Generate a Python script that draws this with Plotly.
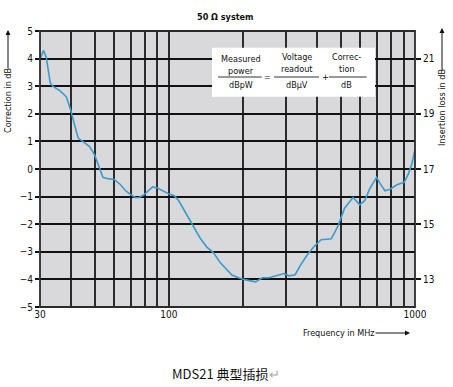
import plotly.graph_objects as go

# ---- data ----
freq_mhz = [30, 31, 31.8, 33, 33.8, 36.2, 38.4, 40, 41.3, 42.9, 44.9, 47.7, 50, 52.4, 54,
            56.6, 60, 63.6, 66.5, 70, 73.4, 76, 79.6, 86, 90, 100, 105.6, 110, 114, 123.8,
            134, 142.5, 152, 162, 172, 180.5, 192, 201, 225, 240, 255, 272, 294, 308, 326,
            344, 366, 390, 416, 457, 486, 518, 560, 597, 625, 656, 698, 721, 755, 792,
            844, 904, 942, 972, 1000]
correction_db = [4.0, 4.29, 4.05, 3.13, 3.0, 2.83, 2.61, 2.13, 1.65, 1.11, 0.99, 0.81, 0.51, 0.04, -0.30,
                 -0.35, -0.38, -0.56, -0.77, -0.93, -1.04, -1.03, -0.92, -0.65, -0.69, -0.90, -0.98, -1.16, -1.40, -1.96,
                 -2.5, -2.82, -3.04, -3.40, -3.64, -3.84, -3.94, -4.0, -4.09, -3.94, -3.94, -3.88, -3.79, -3.87, -3.83,
                 -3.46, -3.1, -2.8, -2.56, -2.53, -2.08, -1.41, -1.03, -1.30, -1.14, -0.70, -0.30, -0.52, -0.79, -0.73,
                 -0.57, -0.48, -0.16, 0.21, 0.70]

x_grid_vals = [30, 40, 50, 60, 70, 80, 90, 100, 200, 300, 400, 500, 600, 700, 800, 900, 1000]
x_labels = {30: "30", 100: "100", 1000: "1000"}
left_ticks = [-5, -4, -3, -2, -1, 0, 1, 2, 3, 4, 5]
right_ticks = [13, 15, 17, 19, 21]

FONT = "Liberation Sans Narrow, Arial Narrow, DejaVu Sans Condensed, Liberation Sans, Arial, sans-serif"
GRID = "#2b2b2b"

fig = go.Figure()
fig.add_trace(go.Scatter(x=freq_mhz, y=correction_db, mode="lines",
                         line=dict(color="#3b9bcc", width=1.6), showlegend=False,
                         hoverinfo="skip"))
# invisible trace to activate right axis
fig.add_trace(go.Scatter(x=[30], y=[17], yaxis="y2", mode="markers",
                         marker=dict(opacity=0), showlegend=False, hoverinfo="skip"))

fig.update_layout(
    width=453, height=387,
    margin=dict(l=40, r=38, t=31, b=80, pad=0),
    paper_bgcolor="white",
    plot_bgcolor="#d9d9db",
    font=dict(family=FONT, size=10, color="#111"),
    xaxis=dict(type="log", range=[1.4771, 3.0], tickvals=x_grid_vals,
               ticktext=[x_labels.get(v, "") for v in x_grid_vals],
               showgrid=True, gridcolor=GRID, gridwidth=1.8, zeroline=False,
               showline=False, ticks="", tickfont=dict(size=10)),
    yaxis=dict(range=[-5, 5], tickvals=left_ticks, showgrid=True, gridcolor="#111",
               gridwidth=1.5, zeroline=False, showline=False, ticks="outside",
               ticklen=4, tickcolor="#111", tickwidth=1.5, tickfont=dict(size=10)),
    yaxis2=dict(range=[12, 22], overlaying="y", side="right", tickvals=right_ticks,
                showgrid=False, zeroline=False, showline=False, ticks="outside",
                ticklen=5, tickcolor="#111", tickwidth=1.5, tickfont=dict(size=10)),
)

def px2paper(px, py):
    return (px - 40) / 375.0, (307 - py) / 276.0

shapes = []
# border lines
shapes.append(dict(type="rect", xref="paper", yref="paper", x0=0, x1=1, y0=0, y1=1,
                   line=dict(color=GRID, width=1.8)))
# formula box
bx0, by0 = px2paper(212, 96.7)
bx1, by1 = px2paper(375, 47.7)
shapes.append(dict(type="rect", xref="paper", yref="paper", x0=bx0, x1=bx1, y0=by0, y1=by1,
                   fillcolor="white", line=dict(width=0), layer="above"))
for (a, b) in [(218, 261.7), (274, 319), (329, 366.7)]:
    x0, yy = px2paper(a, 77)
    x1, _ = px2paper(b, 77)
    shapes.append(dict(type="line", xref="paper", yref="paper", x0=x0, x1=x1, y0=yy, y1=yy,
                       line=dict(color="#333", width=1)))
fig.update_layout(shapes=shapes)

ann = []
def txt(px, py, s, size=9, fam=FONT, **kw):
    x, y = px2paper(px, py)
    d = dict(x=x, y=y, xref="paper", yref="paper", text=s, showarrow=False,
             font=dict(size=size, family=fam, color="#111"), xanchor="center", yanchor="middle")
    d.update(kw)
    ann.append(d)

# formula text
txt(240.7, 59, "Measured")
txt(240.7, 71, "power")
txt(240.7, 85, "dBpW")
txt(267.7, 77, "=")
txt(296.7, 57, "Voltage")
txt(296.7, 69, "readout")
txt(296.7, 85, "dBμV")
txt(325, 77, "+")
txt(346.7, 57, "Correc-")
txt(346.7, 69, "tion")
txt(346.7, 85, "dB")

# title
txt(225, 17, "<b>50 Ω system</b>", size=9)
# left axis title
txt(8, 101, "Correction in dB", size=9, textangle=-90)
# right axis title
txt(442, 108, "Insertion loss in dB", size=9, textangle=-90)
# x axis title
txt(339, 333, "Frequency in MHz", size=9)
# caption
txt(226, 373, "MDS21 典型插损<span style='color:#aaa'>↵</span>", size=13,
    fam="Noto Sans CJK SC, sans-serif")

# arrows
def arrow(px_from, py_from, px_to, py_to):
    x, y = px2paper(px_to, py_to)
    ann.append(dict(x=x, y=y, xref="paper", yref="paper", text="", showarrow=True,
                    ax=px_from - px_to, ay=py_from - py_to, axref="pixel", ayref="pixel",
                    arrowhead=2, arrowsize=1, arrowwidth=1, arrowcolor="#111"))

arrow(8, 70, 8, 30)
arrow(442, 72, 442, 28)
arrow(374, 333, 410, 333)

fig.update_layout(annotations=ann)
fig.write_html("out.html", config={"displayModeBar": False},
               post_script="document.body.style.margin='0';")
